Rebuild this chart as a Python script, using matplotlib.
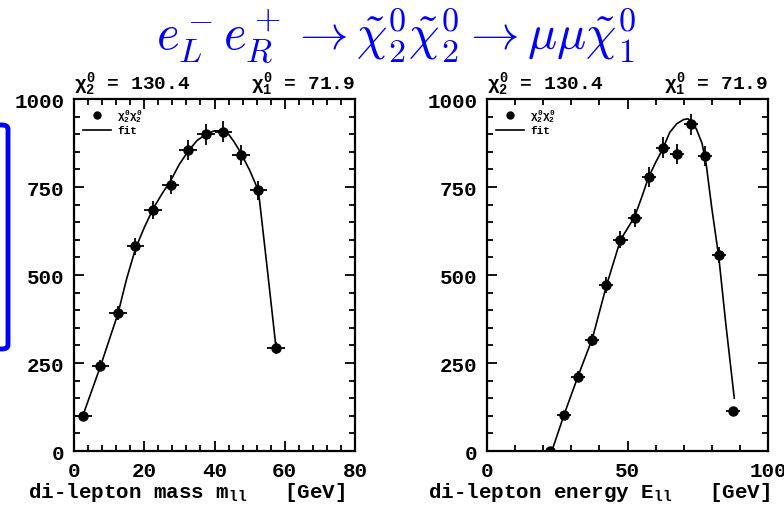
import numpy as np
import matplotlib
matplotlib.use("Agg")
import matplotlib.pyplot as plt
from matplotlib.lines import Line2D
from matplotlib.patches import FancyBboxPatch
from matplotlib.ticker import MultipleLocator

plt.rcParams['font.family'] = ['Liberation Mono', 'DejaVu Sans']
plt.rcParams['font.weight'] = 'bold'
plt.rcParams['mathtext.fontset'] = 'custom'
plt.rcParams['mathtext.rm'] = 'Liberation Mono:bold'
plt.rcParams['mathtext.it'] = 'Liberation Mono:bold'
plt.rcParams['mathtext.bf'] = 'Liberation Mono:bold'

# di-lepton mass spectrum
mass_x = [2.5, 7.5, 12.5, 17.5, 22.5, 27.5, 32.5, 37.5, 42.5, 47.5, 52.5, 57.5]
mass_y = [100, 242, 392, 582, 685, 757, 856, 900, 907, 841, 741, 294]
mass_yerr = [10, 16, 20, 24, 26, 28, 29, 30, 30, 29, 27, 17]
mass_fit_x = [2.5, 7.5, 12.5, 15, 17.5, 20, 22.5, 25, 27.5, 30, 32.5, 35, 37.5,
              40, 42.5, 44, 45.5, 47.5, 50, 52.5, 55, 57.5]
mass_fit_y = [100, 240, 390, 490, 575, 635, 688, 730, 768, 815, 852, 882, 900,
              910, 910, 900, 880, 847, 798, 740, 520, 295]

# di-lepton energy spectrum
en_x = [22.5, 27.5, 32.5, 37.5, 42.5, 47.5, 52.5, 57.5, 62.5, 67.5, 72.5, 77.5, 82.5, 87.5]
en_y = [0, 102, 211, 315, 472, 600, 662, 779, 862, 844, 929, 839, 557, 115]
en_yerr = [0, 10, 15, 18, 22, 24, 26, 28, 29, 29, 30, 29, 24, 11]
en_fit_x = [23.5, 27.5, 32.5, 37.5, 42.5, 47.5, 52.5, 55, 57.5, 60, 62.5, 65, 67.5,
            70, 71.5, 73, 74.5, 76.5, 78, 80, 82.5, 85, 88]
en_fit_y = [10, 105, 215, 320, 470, 600, 665, 720, 778, 820, 858, 905, 930,
            942, 944, 935, 915, 875, 815, 690, 550, 360, 150]

fig = plt.figure(figsize=(7.84, 5.1), dpi=100)

def panel(rect, x, y, yerr, fx, fy, xmax, xmaj, xmin, xlabel):
    ax = fig.add_axes(rect)
    ax.errorbar(x, y, xerr=2.5, yerr=yerr, fmt='o', color='black', ms=6.5,
                elinewidth=1.3, capsize=0)
    ax.plot(fx, fy, color='black', lw=1.2)
    ax.set_xlim(0, xmax)
    ax.set_ylim(0, 1000)
    ax.xaxis.set_major_locator(MultipleLocator(xmaj))
    ax.xaxis.set_minor_locator(MultipleLocator(xmin))
    ax.yaxis.set_major_locator(MultipleLocator(250))
    ax.yaxis.set_minor_locator(MultipleLocator(50))
    ax.tick_params(which='both', direction='in', top=True, right=True, width=1.3,
                   labelsize=15)
    ax.tick_params(which='major', length=7, pad=7)
    ax.tick_params(which='minor', length=4)
    for s in ax.spines.values():
        s.set_linewidth(1.6)
    ax.set_xlabel(xlabel, fontsize=15, fontweight='bold')
    ax.xaxis.set_label_coords(0.40, -0.116)
    ax.xaxis.label.set_va('center')
    ax.text(0.0, 1.005, r"$\chi^0_2$ = 130.4", transform=ax.transAxes,
            fontsize=14, ha='left', va='bottom')
    ax.text(1.0, 1.005, r"$\chi^0_1$ = 71.9", transform=ax.transAxes,
            fontsize=14, ha='right', va='bottom')
    handles = [Line2D([], [], marker='o', ls='none', color='black', ms=5),
               Line2D([], [], color='black', lw=1.2)]
    ax.legend(handles, [r"$\chi^0_2\chi^0_2$", "fit"], loc='upper left',
              frameon=False, fontsize=8, handlelength=2.5, labelspacing=0.1,
              borderaxespad=0.4, handletextpad=0.6)
    return ax

panel([0.0944, 0.1137, 0.3584, 0.690], mass_x, mass_y, mass_yerr,
      mass_fit_x, mass_fit_y, 80, 20, 4, r"di-lepton mass m$_{\rm ll}$   [GeV]")
panel([0.6212, 0.1137, 0.3584, 0.690], en_x, en_y, en_yerr,
      en_fit_x, en_fit_y, 100, 50, 10, r"di-lepton energy E$_{\rm ll}$   [GeV]")

fig.text(0.505, 0.931, r"$e_L^-e_R^+ \rightarrow \tilde{\chi}_2^0\tilde{\chi}_2^0 \rightarrow \mu\mu\tilde{\chi}_1^0$",
         color='blue', fontsize=35, ha='center', va='center', math_fontfamily='cm')

box = FancyBboxPatch((-12 / 784, 1 - 350 / 510), 20 / 784, 224 / 510,
                     boxstyle="round,pad=0,rounding_size=0.008",
                     transform=fig.transFigure, fill=False, edgecolor='blue', lw=3.5)
fig.patches.append(box)

fig.savefig("out.png", dpi=100)
